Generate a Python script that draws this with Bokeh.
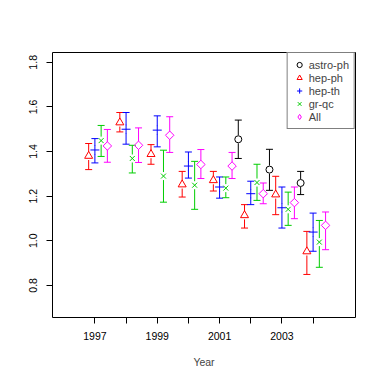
import math
import numpy as np
from bokeh.plotting import figure
from bokeh.models import (Range1d, FixedTicker, PrintfTickFormatter, Legend, LegendItem,
                          Label, ColumnDataSource)
from bokeh.embed import file_html
from bokeh.resources import INLINE

# ---------------- data ----------------
years = [1997, 1998, 1999, 2000, 2001, 2002, 2003, 2004]
year_labels = ["1997", "", "1999", "", "2001", "", "2003", ""]
y_ticks = [0.8, 1.0, 1.2, 1.4, 1.6, 1.8]

astro_years = [2002, 2003, 2004]
astro_mid = [1.455, 1.319, 1.259]
astro_lo = [1.369, 1.226, 1.207]
astro_hi = [1.541, 1.410, 1.311]

hepph_mid = [1.380, 1.530, 1.388, 1.252, 1.271, 1.114, 1.207, 0.952]
hepph_lo = [1.319, 1.488, 1.343, 1.196, 1.223, 1.057, 1.117, 0.849]
hepph_hi = [1.436, 1.575, 1.431, 1.311, 1.311, 1.162, 1.289, 1.042]

hepth_mid = [1.407, 1.500, 1.496, 1.335, 1.241, 1.211, 1.148, 1.039]
hepth_lo = [1.349, 1.433, 1.421, 1.281, 1.191, 1.162, 1.057, 0.953]
hepth_hi = [1.458, 1.575, 1.560, 1.398, 1.286, 1.267, 1.241, 1.124]

grqc_mid = [1.449, 1.369, 1.290, 1.249, 1.236, 1.261, 1.141, 0.994]
grqc_lo = [1.378, 1.304, 1.173, 1.141, 1.193, 1.181, 1.069, 0.881]
grqc_hi = [1.517, 1.428, 1.406, 1.356, 1.286, 1.343, 1.218, 1.091]

all_mid = [1.425, 1.428, 1.473, 1.342, 1.335, 1.211, 1.171, 1.069]
all_lo = [1.352, 1.351, 1.396, 1.279, 1.279, 1.166, 1.099, 0.960]
all_hi = [1.499, 1.506, 1.556, 1.409, 1.396, 1.259, 1.241, 1.129]

series = [
    # name, years, mid, lo, hi, offset, colour, marker, size, angle, legend marker
    ("astro-ph", astro_years, astro_mid, astro_lo, astro_hi, -0.4, "black", "circle", 7, 0.0, None),
    ("hep-ph", years, hepph_mid, hepph_lo, hepph_hi, -0.2, "#FF0000", "triangle", 8, 0.0, None),
    ("hep-th", years, hepth_mid, hepth_lo, hepth_hi, 0.0, "#0000FF", "cross", 9, 0.0, None),
    ("gr-qc", years, grqc_mid, grqc_lo, grqc_hi, 0.2, "#00CD00", "x", 7, 0.0, None),
    ("All", years, all_mid, all_lo, all_hi, 0.4, "#FF00FF", "square", 6, math.pi / 4, "diamond"),
]

# ---------------- layout ----------------
XLIM = (1996, 2005)
YLIM = (0.7, 1.8)
def expand(lim):
    d = (lim[1] - lim[0]) * 0.04
    return lim[0] - d, lim[1] + d

FW, FH = 303, 265
FONT = "Liberation Sans"
FS = "10.5px"

x0, x1 = expand(XLIM)
y0, y1 = expand(YLIM)

p = figure(output_backend="svg", toolbar_location=None,
           x_range=Range1d(x0, x1), y_range=Range1d(y0, y1),
           frame_width=FW, frame_height=FH,
           min_border_left=52, min_border_right=26, min_border_top=52, min_border_bottom=64)
p.grid.visible = False
p.outline_line_color = "black"
p.outline_line_width = 1
p.background_fill_color = "white"
p.border_fill_color = "white"

for ax in (p.xaxis[0], p.yaxis[0]):
    ax.axis_line_color = None
    ax.major_tick_in = 0
    ax.major_tick_out = 6
    ax.minor_tick_line_color = None
    ax.major_tick_line_color = "black"
    ax.major_label_text_font = FONT
    ax.major_label_text_font_size = FS
    ax.major_label_text_color = "black"

p.xaxis.ticker = FixedTicker(ticks=years)
p.xaxis.major_label_overrides = dict(zip(years, year_labels))
p.xaxis.major_label_standoff = 8
p.xaxis.axis_label = "Year"
p.xaxis.axis_label_text_font = FONT
p.xaxis.axis_label_text_font_size = FS
p.xaxis.axis_label_text_font_style = "normal"
p.xaxis.axis_label_standoff = 13

p.yaxis.ticker = FixedTicker(ticks=y_ticks)
p.yaxis.formatter = PrintfTickFormatter(format="%.1f")
p.yaxis.major_label_orientation = "parallel"
p.yaxis.major_label_standoff = 9

p.add_layout(Label(x=-41, y=FH / 2, x_units="screen", y_units="screen", text="σ²",
                   angle=math.pi / 2, text_align="center", text_baseline="middle",
                   text_font=FONT, text_font_size=FS, text_color="black"))

gap = 4 * (y1 - y0) / FH  # gap around the point, as in plotCI

items = []
for name, yrs, mid, lo, hi, off, col, mk, sz, ang, lmk in series:
    xs = [y + off for y in yrs]
    src = ColumnDataSource(dict(
        x=xs, mid=mid, lo=lo, hi=hi,
        top_start=[m + gap for m in mid],
        bot_end=[m - gap for m in mid],
    ))
    p.segment(x0="x", y0="top_start", x1="x", y1="hi", source=src, line_color=col, line_width=1)
    p.segment(x0="x", y0="lo", x1="x", y1="bot_end", source=src, line_color=col, line_width=1)
    p.scatter(x="x", y="hi", source=src, marker="dash", size=7, line_color=col, line_width=1)
    p.scatter(x="x", y="lo", source=src, marker="dash", size=7, line_color=col, line_width=1)
    r = p.scatter(x="x", y="mid", source=src, marker=mk, size=sz, angle=ang,
                  line_color=col, fill_color=None, line_width=1)
    if lmk is not None:
        # legend-only proxy glyph (a NaN point draws nothing), so the key shows a diamond
        proxy_src = ColumnDataSource(dict(x=np.array([np.nan]), y=np.array([np.nan])))
        proxy = p.scatter(x="x", y="y", source=proxy_src, marker=lmk, size=sz,
                          line_color=col, fill_color=None, line_width=1)
        items.append(LegendItem(label=name, renderers=[proxy]))
    else:
        items.append(LegendItem(label=name, renderers=[r]))

legend = Legend(items=items, location="top_right", margin=0, padding=5, spacing=0,
                glyph_width=13, glyph_height=13, label_height=13, label_standoff=3,
                border_line_color="black", border_line_width=1,
                label_text_font=FONT, label_text_font_size="11px",
                background_fill_color="white", background_fill_alpha=1)
p.add_layout(legend)

open("out.html", "w").write(file_html(p, INLINE))
